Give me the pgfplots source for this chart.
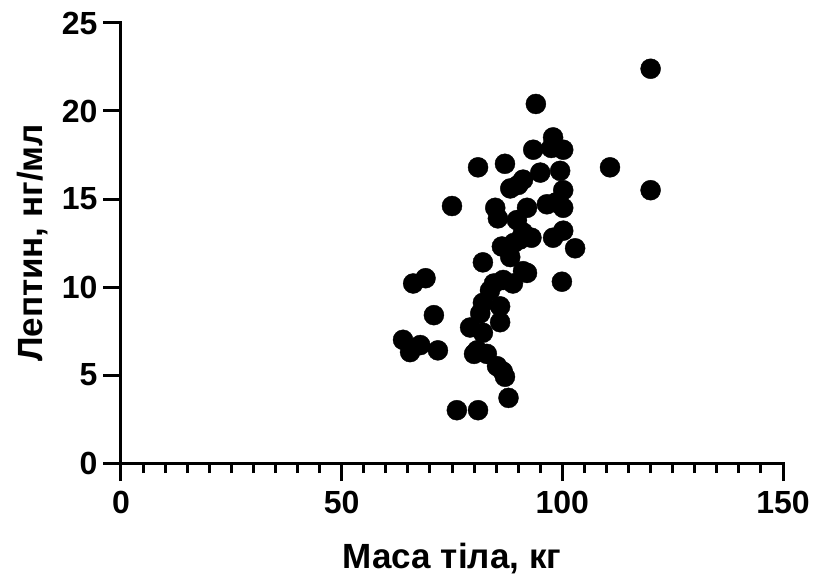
\documentclass[border=0pt]{standalone}
\usepackage{fontspec}
\setmainfont{Liberation Sans}
\usepackage{pgfplots}
\pgfplotsset{compat=1.18}
\begin{document}
\begin{tikzpicture}
\begin{axis}[
  at={(0,0)}, anchor=south west,
  scale only axis, width=662pt, height=440pt,
  xmin=0, xmax=150, ymin=0, ymax=25,
  axis lines*=left,
  axis line style={line width=3pt, line cap=rect},
  xtick={0,50,100,150}, ytick={0,5,10,15,20,25},
  minor x tick num=9,
  tick align=outside,
  major tick length=18pt, minor tick length=10pt,
  every tick/.style={line width=3pt, black},
  /pgf/number format/assume math mode=true,
  ticklabel style={font=\bfseries\fontsize{32}{36}\selectfont},
  xticklabel style={yshift=-7pt},
  yticklabel style={xshift=-2pt},
  xlabel={Маса тіла, кг},
  ylabel={Лептин, нг/мл},
  label style={font=\bfseries\fontsize{35}{40}\selectfont},
  xlabel style={at={([yshift=-105pt]axis description cs:0.5,0)}, anchor=base},
  ylabel style={at={([xshift=-78pt]axis description cs:0,0.5)}, anchor=base},
  clip=false,
]
\addplot[only marks, mark=*, mark size=10pt, mark options={fill=black, draw=black}] coordinates {
(120,22.4) (120,15.5) (110.8,16.8) (94.0,20.4) (75.0,14.6) (80.9,16.8) (87.0,17.0)
(102.9,12.2) (99.9,10.3) (76.1,3.0) (80.9,3.0) (87.8,3.7) (70.9,8.4) (69.0,10.5)
(66.2,10.2) (63.9,7.0) (65.5,6.3) (67.8,6.7) (71.8,6.4) (79.1,7.7) (81.4,8.5)
(80.7,6.4) (82.9,6.2) (85.2,5.5) (87.0,4.9) (86.5,5.2) (82.0,7.4) (85.9,8.0)
(85.9,8.9) (82.0,9.1) (83.6,9.8) (84.5,10.2) (88.8,10.2) (92.0,10.8) (82.0,11.4)
(86.6,10.4) (91.1,10.9) (88.2,11.7) (86.3,12.3) (90.4,12.7) (91.1,13.1) (97.9,12.8)
(100.2,13.2) (89.7,13.8) (85.4,13.9) (84.8,14.5) (92.0,14.5) (96.5,14.7) (100.2,14.5)
(100.2,15.5) (88.2,15.6) (91.1,16.1) (95.0,16.5) (99.5,16.6) (93.4,17.8) (100.2,17.8)
(97.9,18.5) (97.5,17.9) (80.0,6.2) (89.0,12.5) (93.0,12.8) (90.0,15.8) (98.5,14.8)
};
\end{axis}
\pgfresetboundingbox
\useasboundingbox (-121pt,-118pt) rectangle (692pt,463pt);
\end{tikzpicture}
\end{document}
